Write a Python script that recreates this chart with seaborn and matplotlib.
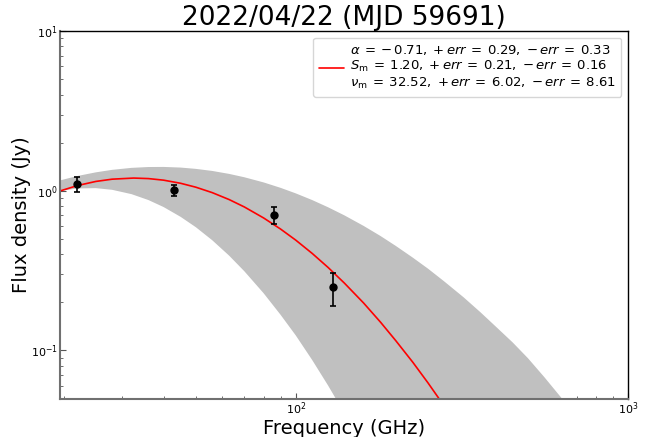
import numpy as np
import seaborn as sns
import matplotlib
matplotlib.use('Agg')
import matplotlib.pyplot as plt

# measured points (GHz, Jy)
obs_freq = [22.0, 43.0, 86.0, 129.0]
obs_flux = [1.10, 1.01, 0.705, 0.248]
obs_err = [0.125, 0.08, 0.083, 0.059]

# fitted spectrum
fit_freq = [19.5, 22, 25, 28, 32.5, 36, 40, 45, 50, 56, 63, 70, 80, 90, 100,
            112, 125, 140, 160, 180, 200, 225, 250, 280]
fit_flux = [0.996, 1.077, 1.143, 1.181, 1.200, 1.191, 1.164, 1.113, 1.052, 0.973,
            0.880, 0.791, 0.675, 0.575, 0.490, 0.405, 0.331, 0.264, 0.198, 0.150,
            0.115, 0.0843, 0.0626, 0.0447]

# uncertainty band edges
upper_freq = [19.5, 22, 25, 28, 32, 36, 40, 45, 50, 56, 63, 70, 80, 90, 100, 112,
              125, 140, 160, 180, 200, 225, 250, 280, 320, 360, 400, 450, 500,
              560, 630, 700]
upper_flux = [1.160, 1.236, 1.303, 1.351, 1.390, 1.407, 1.409, 1.396, 1.370, 1.330,
              1.274, 1.214, 1.127, 1.042, 0.962, 0.874, 0.788, 0.701, 0.602, 0.520,
              0.451, 0.381, 0.325, 0.270, 0.215, 0.173, 0.141, 0.112, 0.0893,
              0.068, 0.0505, 0.039]
lower_freq = [19.5, 22, 25, 28, 32, 36, 40, 45, 50, 56, 63, 70, 80, 90, 100, 112,
              125, 140]
lower_flux = [0.996, 1.033, 1.038, 1.013, 0.952, 0.874, 0.790, 0.686, 0.591, 0.490,
              0.392, 0.313, 0.228, 0.167, 0.124, 0.0871, 0.0604, 0.0404]

legend_text = (r'$\alpha\:{=}\:{-}\,0.71,\;{+}\,err\:{=}\:0.29,\;{-}\,err\:{=}\:0.33$' + '\n'
               + r'$S_{\rm m}\:{=}\:1.20,\;{+}\,err\:{=}\:0.21,\;{-}\,err\:{=}\:0.16$' + '\n'
               + r'$\nu_{\rm m}\:{=}\:32.52,\;{+}\,err\:{=}\:6.02,\;{-}\,err\:{=}\:8.61$')

sns.set_style('ticks')
plt.rcParams['font.family'] = ['DejaVu Sans']
plt.rcParams['text.color'] = 'black'
plt.rcParams['axes.labelcolor'] = 'black'
plt.rcParams['xtick.labelcolor'] = 'black'
plt.rcParams['ytick.labelcolor'] = 'black'

fig = plt.figure(figsize=(6.6, 4.37), dpi=100)
ax = fig.add_axes([60 / 660, 38.5 / 437, 568 / 660, 367.5 / 437])
ax.set_xscale('log')
ax.set_yscale('log')

ax.fill(upper_freq + lower_freq[::-1], upper_flux + lower_flux[::-1],
        color='silver', lw=0, zorder=1)
sns.lineplot(x=fit_freq, y=fit_flux, ax=ax, color='red', lw=1.2,
             label=legend_text, zorder=2)
ax.errorbar(obs_freq, obs_flux, yerr=obs_err, fmt='o', color='black', ms=5,
            elinewidth=1.2, capsize=2.5, capthick=1.2, zorder=3)

ax.set_xlim(19.5, 1000)
ax.set_ylim(0.05, 10)
ax.set_title('2022/04/22 (MJD 59691)', fontsize=19, pad=2)
ax.set_xlabel('Frequency (GHz)', fontsize=14, labelpad=1)
ax.set_ylabel('Flux density (Jy)', fontsize=14, labelpad=0)

ax.tick_params(which='both', direction='in', labelsize=8, color='#555555', pad=1.5)
ax.tick_params(which='major', length=4)
ax.tick_params(which='minor', length=2)
for side in ['left', 'bottom']:
    ax.spines[side].set_color('#707070')
    ax.spines[side].set_linewidth(1.5)
for side in ['top', 'right']:
    ax.spines[side].set_color('black')
    ax.spines[side].set_linewidth(1.0)

ax.legend(loc='upper right', fontsize=9.5, handlelength=1.9, handletextpad=0.5,
          labelspacing=0.3)

fig.savefig('out.png', dpi=100)
